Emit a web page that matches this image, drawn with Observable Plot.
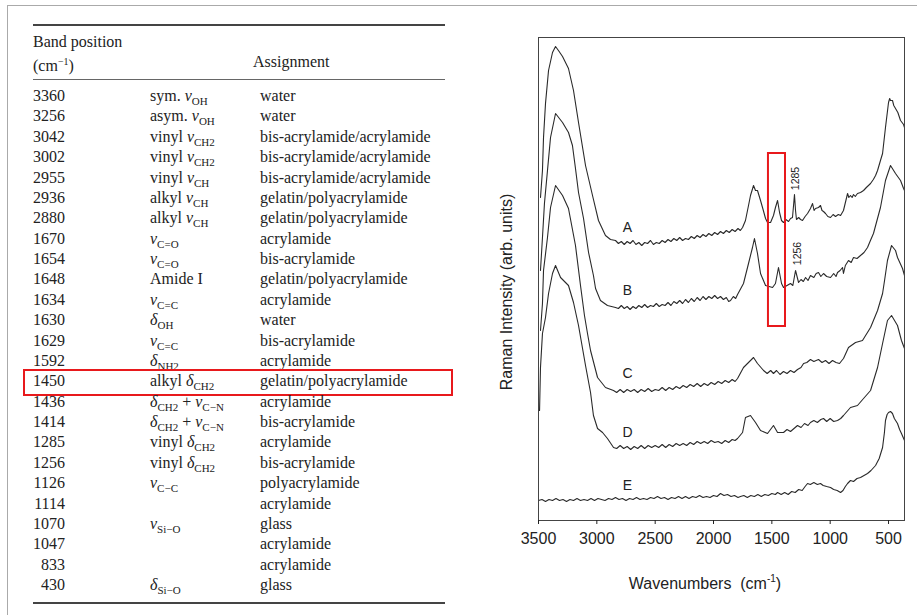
<!DOCTYPE html>
<html>
<head>
<meta charset="utf-8">
<script src="https://cdn.jsdelivr.net/npm/d3@7"></script>
<script src="https://cdn.jsdelivr.net/npm/@observablehq/plot@0.6"></script>
<style>
  html, body { margin: 0; padding: 0; background: #fff; }
  #page { position: relative; width: 917px; height: 615px; overflow: hidden; background: #fff; }
  .serif { font-family: "Liberation Serif", "Times New Roman", serif; font-size: 16px; color: #222; }
  .sans { font-family: "Liberation Sans", Arial, sans-serif; color: #222; }
  .abs { position: absolute; white-space: nowrap; }
  .cell { position: absolute; white-space: nowrap; line-height: 20px; height: 20px; }
  .cell sub { font-size: 11px; vertical-align: -4px; line-height: 0; }
  .cell i { font-style: italic; }
  .rule { position: absolute; background: #444; }
</style>
</head>
<body>
<div id="page"></div>
<script>
// ---------------- Table data ----------------
const bandPositions = ["3360","3256","3042","3002","2955","2936","2880","1670","1654","1648","1634","1630","1629","1592","1450","1436","1414","1285","1256","1126","1114","1070","1047","833","430"];
const modes = ["sym. ν_{OH}","asym. ν_{OH}","vinyl ν_{CH2}","vinyl ν_{CH2}","vinyl ν_{CH}","alkyl ν_{CH}","alkyl ν_{CH}","ν_{C=O}","ν_{C=O}","Amide I","ν_{C=C}","δ_{OH}","ν_{C=C}","δ_{NH2}","alkyl δ_{CH2}","δ_{CH2} + ν_{C−N}","δ_{CH2} + ν_{C−N}","vinyl δ_{CH2}","vinyl δ_{CH2}","ν_{C−C}","","ν_{Si−O}","","","δ_{Si−O}"];
const assignments = ["water","water","bis-acrylamide/acrylamide","bis-acrylamide/acrylamide","bis-acrylamide/acrylamide","gelatin/polyacrylamide","gelatin/polyacrylamide","acrylamide","bis-acrylamide","gelatin/polyacrylamide","acrylamide","water","bis-acrylamide","acrylamide","gelatin/polyacrylamide","acrylamide","bis-acrylamide","acrylamide","bis-acrylamide","polyacrylamide","acrylamide","glass","acrylamide","acrylamide","glass"];
const highlightedBand = "1450";

// ---------------- Spectrum data (wavenumber cm-1, intensity arb. units incl. stack offset) ----------------
const specA_wn = [3483,3466,3457,3440,3414,3380,3354,3329,3294,3243,3200,3157,3097,3037,2986,2926,2883,2840,2815,2790,2765,2740,2715,2690,2665,2640,2615,2590,2565,2540,2515,2490,2465,2440,2415,2390,2365,2340,2315,2290,2265,2240,2215,2190,2165,2140,2115,2090,2065,2040,2015,1990,1965,1940,1915,1890,1865,1840,1815,1790,1770,1751,1726,1700,1683,1657,1640,1623,1597,1580,1554,1537,1511,1486,1469,1451,1434,1417,1400,1380,1357,1340,1323,1314,1306,1297,1289,1270,1254,1237,1215,1194,1169,1151,1138,1126,1100,1083,1070,1057,1040,1020,997,975,954,930,911,886,851,840,826,812,800,785,766,740,714,690,654,630,611,594,569,551,526,500,490,483,466,455,440,420,397,371,363];
const specA_int = [323,350,383,417,450,468,474,470,464,452,430,398,355,325,300,285,281,280,277,279,276,279,277,280,276,278,275,278,277,280,276,278,277,280,278,281,279,282,280,283,280,282,281,284,282,285,283,286,284,287,285,288,286,289,287,290,288,291,289,292,290,293,300,315,325,335,330,330,320,313,302,298,298,305,313,320,308,300,298,301,299,302,303,315,326,310,301,303,301,300,304,307,312,317,310,312,313,315,310,309,307,304,303,306,304,306,305,310,327,323,325,323,326,324,327,328,330,333,337,341,345,350,360,367,393,418,422,420,420,415,412,408,400,396,393];

const specB_wn = [3483,3466,3449,3423,3397,3354,3294,3243,3209,3183,3157,3114,3071,3029,3011,2969,2909,2840,2815,2790,2765,2740,2715,2690,2665,2640,2615,2590,2565,2540,2515,2490,2465,2440,2415,2390,2365,2340,2315,2290,2265,2240,2215,2190,2165,2140,2115,2090,2065,2040,2015,1990,1965,1940,1915,1890,1870,1854,1830,1810,1794,1743,1700,1666,1649,1623,1597,1554,1494,1469,1443,1417,1400,1370,1340,1320,1297,1271,1250,1230,1211,1190,1169,1140,1120,1100,1080,1057,1030,997,970,950,937,915,894,886,870,843,820,800,770,740,710,680,655,629,569,526,483,440,397,371,363];
const specB_int = [250,283,317,350,383,407,398,388,375,352,328,302,268,245,232,220,215,213,212,215,212,214,211,214,212,215,213,216,213,215,214,217,214,216,215,218,215,219,217,220,217,221,218,222,219,223,220,224,221,224,222,225,222,224,221,223,219,220,224,222,226,237,257,273,282,267,247,235,233,237,253,237,233,235,237,235,250,238,241,239,243,240,245,243,247,248,244,247,244,243,247,244,248,250,253,247,255,260,258,263,262,265,268,273,280,287,313,340,355,347,340,332,330];

const specC_wn = [3483,3466,3457,3423,3397,3354,3294,3243,3183,3140,3106,3080,3054,2994,2926,2857,2830,2800,2770,2740,2710,2680,2650,2620,2590,2560,2530,2500,2470,2440,2410,2380,2350,2320,2290,2260,2230,2200,2170,2140,2110,2080,2050,2020,1990,1960,1930,1900,1870,1840,1815,1794,1743,1700,1657,1623,1571,1540,1510,1486,1460,1430,1400,1370,1340,1310,1280,1250,1228,1200,1169,1140,1100,1070,1040,1010,980,950,920,900,886,843,783,723,654,594,551,534,509,474,440,423,380,363];
const specC_int = [190,217,250,283,313,335,325,312,275,235,205,187,170,143,133,130,128,131,128,131,129,131,128,131,129,132,129,131,130,133,130,133,131,134,132,135,133,136,134,137,134,137,135,138,136,139,137,140,138,141,139,142,153,158,163,157,150,147,150,147,150,146,149,147,150,148,151,153,157,158,161,159,161,158,160,157,160,158,157,160,162,173,178,180,193,210,227,240,260,275,270,263,252,245];

const specD_wn = [3491,3483,3466,3440,3414,3380,3354,3311,3243,3200,3157,3097,3054,3029,2994,2951,2909,2857,2830,2800,2770,2740,2710,2680,2650,2620,2590,2560,2530,2500,2470,2440,2410,2380,2350,2320,2290,2260,2230,2200,2170,2140,2110,2080,2050,2020,1990,1960,1930,1900,1870,1840,1815,1794,1751,1726,1683,1640,1597,1537,1486,1451,1400,1370,1340,1310,1280,1250,1220,1190,1169,1140,1110,1080,1057,1030,1000,970,937,910,886,826,766,714,654,594,551,509,474,423,389,363];
const specD_int = [110,153,187,203,227,247,255,243,235,218,195,155,128,105,92,88,82,73,72,75,72,74,71,74,72,75,72,75,73,75,73,76,73,76,74,77,75,77,75,78,76,79,77,79,77,80,78,79,77,80,78,81,80,82,88,103,105,98,90,87,95,88,88,91,89,92,95,93,97,95,98,100,98,101,102,99,102,99,100,102,105,113,115,122,130,153,177,200,205,195,180,172];

const specE_wn = [3500,3470,3440,3410,3380,3350,3320,3290,3260,3230,3200,3170,3140,3110,3080,3050,3020,2990,2960,2930,2900,2870,2840,2810,2780,2750,2720,2690,2660,2630,2600,2570,2540,2510,2480,2450,2420,2390,2360,2330,2300,2270,2240,2210,2180,2150,2120,2090,2060,2030,2000,1970,1940,1910,1880,1850,1820,1790,1769,1740,1710,1680,1650,1620,1590,1560,1530,1500,1470,1451,1420,1390,1360,1330,1300,1270,1240,1215,1194,1170,1140,1110,1083,1060,1030,997,970,940,911,890,870,851,826,800,770,740,710,680,650,611,580,551,535,526,512,500,483,466,450,423,405,389,363];
const specE_int = [20,21,19,21,20,22,20,21,19,21,20,22,20,21,20,22,20,22,21,20,22,21,23,21,22,20,22,21,23,21,22,21,23,22,24,22,23,21,23,22,24,22,24,22,24,23,25,23,24,23,25,24,27,25,26,24,25,23,24,25,23,25,24,26,24,26,25,27,26,28,26,28,26,29,28,31,30,34,37,36,38,36,37,35,34,33,31,30,28,30,34,37,40,39,42,43,45,47,50,55,62,73,88,100,106,108,109,107,102,97,91,87,80];

const spectrumNames = ["A","B","C","D","E"];
const labelWn = [2737,2737,2737,2737,2737];
const labelInt = [293,230,147,88,35];

const peakLabels = ["1285","1256"];
const peakLabelWn = [1297,1280];
const peakLabelInt = [342,267];

const boxWn = [1529,1383];
const boxInt = [194,367];

const xTicks = [3500,3000,2500,2000,1500,1000,500];
const xDomain = [3500,363];
const yDomain = [0,483];

// ---------------- Build page ----------------
const page = document.getElementById("page");
function add(html, cls, style) {
  const d = document.createElement("div");
  d.className = cls;
  d.innerHTML = html;
  Object.assign(d.style, style);
  page.appendChild(d);
  return d;
}
function fmtMode(s) {
  return s.replace(/([νδ])_\{([^}]*)\}/g, (m, g, sub) => `<i>${g}</i><sub>${sub}</sub>`);
}

// screenshot border
add("", "abs", {left: "7px", top: "5px", width: "910px", height: "1px", background: "#aaa"});
add("", "abs", {left: "7px", top: "5px", width: "1px", height: "610px", background: "#aaa"});

// table rules
add("", "rule", {left: "33px", top: "24px", width: "412px", height: "2px"});
add("", "rule", {left: "33px", top: "79px", width: "412px", height: "1px", background: "#666"});
add("", "rule", {left: "33px", top: "602px", width: "412px", height: "2px"});

// headers
add("Band position", "cell serif", {left: "33px", top: "32px"});
add("(cm<sup style='font-size:10px'>−1</sup>)", "cell serif", {left: "33px", top: "52px"});
add("Assignment", "cell serif", {left: "253px", top: "52px"});

// rows
bandPositions.forEach((b, i) => {
  const cy = 96 + i * 20.375;
  const top = (cy - 10) + "px";
  add(b, "cell serif", {left: "25px", width: "40px", textAlign: "right", top});
  if (modes[i]) add(fmtMode(modes[i]), "cell serif", {left: "150px", top});
  add(assignments[i], "cell serif", {left: "260px", top});
  if (b === highlightedBand) {
    add("", "abs", {left: "23px", top: (cy - 12) + "px", width: "426px", height: "23px", border: "2px solid #e8191c"});
  }
});

// ---------------- Chart ----------------
const specs = [
  [specA_wn, specA_int], [specB_wn, specB_int], [specC_wn, specC_int], [specD_wn, specD_int], [specE_wn, specE_int]
];
const lineData = [];
specs.forEach(([w, v], k) => w.forEach((x, i) => lineData.push({name: spectrumNames[k], wn: x, I: v[i]})));
const letterData = spectrumNames.map((n, i) => ({n, wn: labelWn[i], I: labelInt[i]}));
const peakData = peakLabels.map((t, i) => ({t, wn: peakLabelWn[i], I: peakLabelInt[i]}));
const boxData = [{x1: boxWn[0], x2: boxWn[1], y1: boxInt[0], y2: boxInt[1]}];

const chart = Plot.plot({
  width: 427,
  height: 580,
  marginLeft: 48,
  marginRight: 13,
  marginTop: 17,
  marginBottom: 80,
  style: {fontFamily: "'Liberation Sans', Arial, sans-serif", fontSize: "16px", color: "#222", background: "transparent"},
  x: {domain: xDomain, ticks: xTicks, label: null, tickFormat: d => String(d)},
  y: {domain: yDomain, axis: null},
  marks: [
    Plot.line(lineData, {x: "wn", y: "I", z: "name", stroke: "#2a2a2a", strokeWidth: 1.1, curve: "linear"}),
    Plot.rect(boxData, {x1: "x1", x2: "x2", y1: "y1", y2: "y2", fill: "none", stroke: "#e8191c", strokeWidth: 2}),
    Plot.text(letterData, {x: "wn", y: "I", text: "n", fontSize: 14, fill: "#222"}),
    Plot.text(peakData, {x: "wn", y: "I", text: "t", fontSize: 10.5, rotate: -90, fill: "#222"}),
    Plot.frame({stroke: "#444", strokeWidth: 1}),
    Plot.axisX({ticks: xTicks, tickSize: 4, tickPadding: 8, tickFormat: d => String(d), label: null, fontSize: 16})
  ]
});
chart.style.position = "absolute";
chart.style.left = "490px";
chart.style.top = "20px";
page.appendChild(chart);

// axis titles
add("Wavenumbers&nbsp;&nbsp;(cm<sup style='font-size:10px'>-1</sup>)", "abs sans", {left: "705px", top: "583px", transform: "translate(-50%,-50%)", fontSize: "16px"});
add("Raman Intensity (arb. units)", "abs sans", {left: "507px", top: "292px", transform: "translate(-50%,-50%) rotate(-90deg)", fontSize: "16px"});
</script>
</body>
</html>
